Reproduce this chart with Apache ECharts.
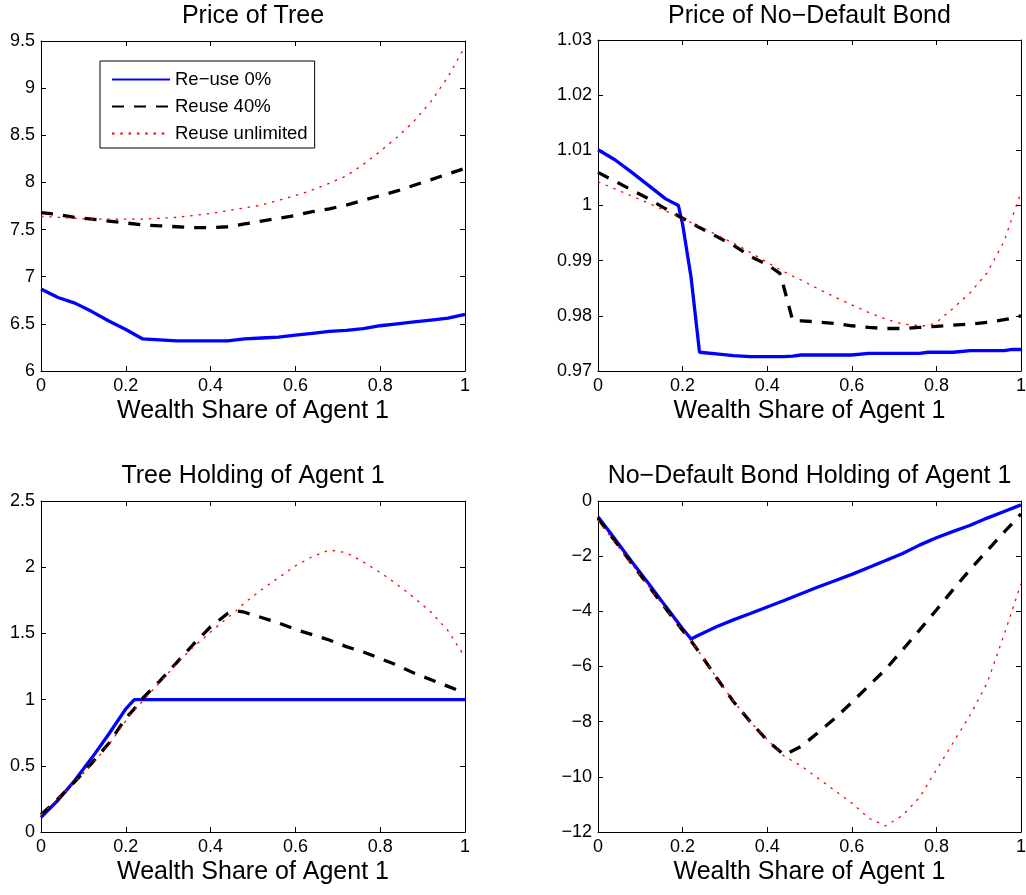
<!DOCTYPE html>
<html>
<head>
<meta charset="utf-8">
<script src="https://cdn.jsdelivr.net/npm/echarts@6/dist/echarts.min.js"></script>
<style>
html, body { margin: 0; padding: 0; background: #fff; }
#main { width: 1026px; height: 895px; }
</style>
</head>
<body>
<div id="main"></div>
<script>
// wealth share of agent 1 (x) used in each panel
var xPriceTree = [0,0.04,0.08,0.12,0.16,0.2,0.24,0.28,0.32,0.36,0.4,0.44,0.48,0.52,0.56,0.6,0.64,0.68,0.72,0.76,0.8,0.84,0.88,0.92,0.96,1];
var xPriceBond = [0,0.04,0.08,0.12,0.16,0.19,0.2,0.22,0.24,0.28,0.32,0.36,0.4,0.43,0.44,0.46,0.48,0.52,0.56,0.6,0.64,0.68,0.72,0.76,0.78,0.8,0.84,0.88,0.92,0.96,0.98,1];
var xTreeHold = [0,0.04,0.08,0.12,0.16,0.2,0.22,0.24,0.28,0.32,0.36,0.4,0.44,0.46,0.48,0.52,0.56,0.6,0.64,0.68,0.72,0.76,0.8,0.84,0.88,0.92,0.96,1];
var xBondHold = [0,0.04,0.08,0.12,0.16,0.2,0.22,0.24,0.28,0.32,0.36,0.4,0.44,0.48,0.52,0.56,0.6,0.64,0.68,0.72,0.76,0.8,0.84,0.88,0.92,0.96,1];

// Price of Tree
var treePrice0 = [6.87,6.78,6.72,6.63,6.53,6.44,6.34,6.33,6.32,6.32,6.32,6.32,6.34,6.35,6.36,6.38,6.40,6.42,6.43,6.45,6.48,6.50,6.52,6.54,6.56,6.60];
var treePrice40 = [7.68,7.66,7.63,7.61,7.59,7.57,7.55,7.54,7.53,7.52,7.52,7.53,7.56,7.59,7.62,7.65,7.69,7.72,7.76,7.81,7.86,7.91,7.97,8.03,8.09,8.15];
var treePriceUnl = [7.64,7.63,7.62,7.61,7.61,7.61,7.61,7.62,7.63,7.65,7.67,7.70,7.73,7.76,7.81,7.86,7.92,7.99,8.07,8.19,8.33,8.48,8.65,8.86,9.12,9.44];

// Price of No-Default Bond
var bondPrice0 = [1.0101,1.0083,1.0060,1.0036,1.0012,1.0000,0.9966,0.9870,0.9734,0.9731,0.9728,0.9726,0.9726,0.9726,0.9726,0.9727,0.9729,0.9729,0.9729,0.9729,0.9732,0.9732,0.9732,0.9732,0.9734,0.9734,0.9734,0.9737,0.9737,0.9737,0.9739,0.9739];
var bondPrice40 = [1.0060,1.0044,1.0028,1.0012,0.9994,0.9981,0.9977,0.9969,0.9960,0.9944,0.9928,0.9908,0.9893,0.9877,0.9850,0.9792,0.9791,0.9789,0.9786,0.9782,0.9779,0.9777,0.9777,0.9779,0.9780,0.9781,0.9783,0.9785,0.9788,0.9793,0.9796,0.9800];
var bondPriceUnl = [1.0043,1.0030,1.0017,1.0004,0.9990,0.9980,0.9976,0.9969,0.9962,0.9947,0.9932,0.9915,0.9897,0.9884,0.9880,0.9872,0.9865,0.9849,0.9834,0.9820,0.9806,0.9794,0.9785,0.9782,0.9782,0.9788,0.9814,0.9842,0.9878,0.9935,0.9980,1.0024];

// Tree Holding of Agent 1
var treeHold0 = [0.11,0.24,0.39,0.56,0.74,0.93,1,1,1,1,1,1,1,1,1,1,1,1,1,1,1,1,1,1,1,1,1,1];
var treeHold40 = [0.13,0.25,0.38,0.52,0.67,0.86,0.93,1.01,1.14,1.28,1.42,1.55,1.65,1.67,1.66,1.62,1.58,1.53,1.49,1.45,1.40,1.36,1.31,1.26,1.20,1.15,1.10,1.05];
var treeHoldUnl = [0.13,0.25,0.38,0.51,0.66,0.84,0.92,0.99,1.13,1.27,1.40,1.51,1.62,1.67,1.73,1.83,1.92,2.01,2.08,2.13,2.11,2.04,1.96,1.87,1.77,1.66,1.52,1.32];

// No-Default Bond Holding of Agent 1
var bondHold0 = [-0.57,-1.38,-2.2,-3.0,-3.82,-4.63,-5.0,-4.85,-4.56,-4.31,-4.08,-3.84,-3.61,-3.36,-3.12,-2.89,-2.66,-2.41,-2.16,-1.9,-1.6,-1.33,-1.1,-0.88,-0.62,-0.38,-0.14];
var bondHold40 = [-0.63,-1.45,-2.27,-3.09,-3.9,-4.69,-5.07,-5.5,-6.4,-7.27,-8.0,-8.68,-9.21,-8.9,-8.4,-7.88,-7.3,-6.7,-6.1,-5.4,-4.68,-3.95,-3.2,-2.48,-1.8,-1.13,-0.47];
var bondHoldUnl = [-0.7,-1.5,-2.3,-3.1,-3.92,-4.7,-5.07,-5.5,-6.4,-7.25,-8.0,-8.65,-9.25,-9.6,-10.05,-10.5,-10.95,-11.5,-11.78,-11.4,-10.75,-9.75,-8.75,-7.75,-6.6,-4.85,-3.0];

var seriesNames = ['Re\u2212use 0%', 'Reuse 40%', 'Reuse unlimited'];
var titles = ['Price of Tree', 'Price of No\u2212Default Bond', 'Tree Holding of Agent 1', 'No\u2212Default Bond Holding of Agent 1'];
var yMin = [6, 0.97, 0, -12];
var yMax = [9.5, 1.03, 2.5, 0];
var yStep = [0.5, 0.01, 0.5, 2];

var FONT = "'Liberation Sans', Arial, Helvetica, sans-serif";

var panels = [
  { xs: xPriceTree, ys: [treePrice0, treePrice40, treePriceUnl] },
  { xs: xPriceBond, ys: [bondPrice0, bondPrice40, bondPriceUnl] },
  { xs: xTreeHold, ys: [treeHold0, treeHold40, treeHoldUnl] },
  { xs: xBondHold, ys: [bondHold0, bondHold40, bondHoldUnl] }
];

var grids = [
  { left: 41, top: 41, width: 424, height: 330 },
  { left: 598, top: 40, width: 423, height: 331 },
  { left: 41, top: 501, width: 424, height: 331 },
  { left: 598, top: 501, width: 423, height: 331 }
];
var titleTop = [4, 4, 464, 464];

var lineStyles = [
  { color: '#0000ff', width: 3.3, type: 'solid' },
  { color: '#000000', width: 3.3, type: [12, 10] },
  { color: '#ff0000', width: 1.3, type: [2.5, 5.8] }
];

function pairs(xs, ys) {
  return xs.map(function (x, i) { return [x, ys[i]]; });
}
function minusSign(v) {
  return String(v).replace('-', '\u2212');
}

var option = { animation: false, backgroundColor: '#fff', grid: [], xAxis: [], yAxis: [], series: [], title: [] };

grids.forEach(function (g, i) {
  option.grid.push({ left: g.left, top: g.top, width: g.width, height: g.height, containLabel: false, outerBoundsMode: 'none' });

  option.title.push({
    text: titles[i],
    left: g.left + g.width / 2,
    top: titleTop[i],
    textAlign: 'center',
    padding: 0,
    textStyle: { fontFamily: FONT, fontSize: 25, fontWeight: 'normal', color: '#000' }
  });

  var tick = { inside: true, length: 5, lineStyle: { color: '#000', width: 1 } };
  var line = { onZero: false, lineStyle: { color: '#000', width: 1 } };

  option.xAxis.push({
    gridIndex: i, type: 'value', min: 0, max: 1, interval: 0.2, position: 'bottom',
    axisLine: line, axisTick: tick, splitLine: { show: false },
    axisLabel: { color: '#000', fontFamily: FONT, fontSize: 18, margin: 6 },
    name: 'Wealth Share of Agent 1', nameLocation: 'middle', nameGap: 28,
    nameTextStyle: { color: '#000', fontFamily: FONT, fontSize: 25 }
  });
  option.xAxis.push({
    gridIndex: i, type: 'value', min: 0, max: 1, interval: 0.2, position: 'top',
    axisLine: line, axisTick: tick, splitLine: { show: false }, axisLabel: { show: false }
  });
  option.yAxis.push({
    gridIndex: i, type: 'value', min: yMin[i], max: yMax[i], interval: yStep[i], position: 'left',
    axisLine: line, axisTick: tick, splitLine: { show: false },
    axisLabel: { color: '#000', fontFamily: FONT, fontSize: 18, margin: 6, formatter: minusSign }
  });
  option.yAxis.push({
    gridIndex: i, type: 'value', min: yMin[i], max: yMax[i], interval: yStep[i], position: 'right',
    axisLine: line, axisTick: tick, splitLine: { show: false }, axisLabel: { show: false }
  });

  panels[i].ys.forEach(function (ys, k) {
    option.series.push({
      name: seriesNames[k],
      type: 'line',
      xAxisIndex: 2 * i,
      yAxisIndex: 2 * i,
      symbol: 'none',
      showSymbol: false,
      silent: true,
      lineStyle: lineStyles[k],
      itemStyle: { color: lineStyles[k].color },
      data: pairs(panels[i].xs, ys)
    });
  });
});

option.legend = {
  data: seriesNames,
  orient: 'vertical',
  left: 100,
  top: 61,
  padding: [9, 7, 5, 11],
  itemWidth: 58,
  itemHeight: 14,
  itemGap: 8,
  borderColor: '#000',
  borderWidth: 1,
  backgroundColor: '#fff',
  selectedMode: false,
  itemStyle: { opacity: 0 },
  textStyle: { color: '#000', fontFamily: FONT, fontSize: 18.5, lineHeight: 18 }
};

var chart = echarts.init(document.getElementById('main'), null, { renderer: 'canvas' });
chart.setOption(option);
</script>
</body>
</html>
